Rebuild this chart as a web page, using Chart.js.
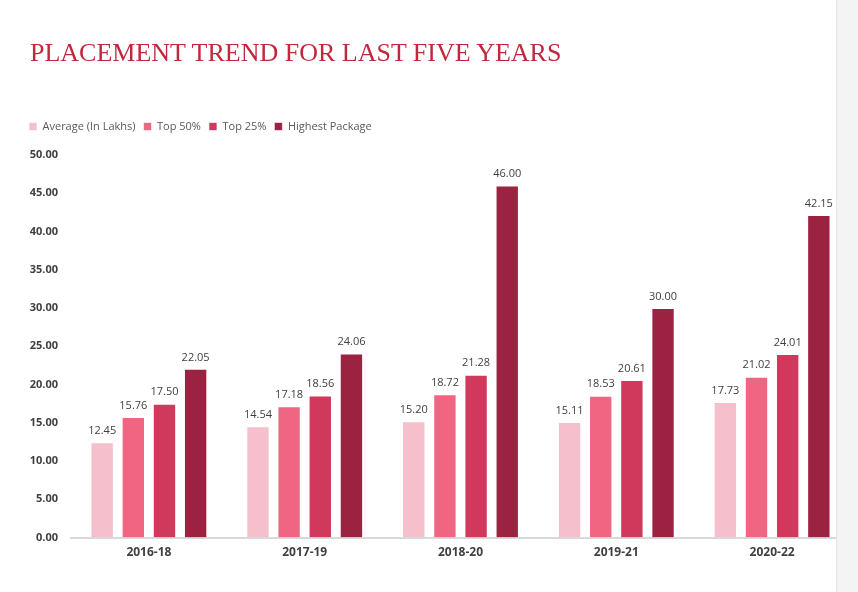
<!DOCTYPE html>
<html>
<head>
<meta charset="utf-8">
<script src="https://cdn.jsdelivr.net/npm/chart.js@4"></script>
<style>
html,body{margin:0;padding:0;background:#fff;width:858px;height:592px;overflow:hidden;}
#wrap{position:absolute;left:0;top:0;width:858px;height:592px;}
#title{position:absolute;left:30px;top:38px;font-family:"Liberation Serif","Times New Roman",serif;font-size:26px;color:#C0283E;white-space:nowrap;letter-spacing:0px;}
#edge{position:absolute;left:836px;top:0;width:22px;height:592px;background:#f4f4f4;border-left:1px solid #e6e6e6;}
</style>
</head>
<body>
<div id="wrap"><canvas id="c" width="858" height="592"></canvas></div>
<div id="title">PLACEMENT TREND FOR LAST FIVE YEARS</div>
<div id="edge"></div>
<script>
const categories = ["2016-18","2017-19","2018-20","2019-21","2020-22"];
const seriesNames = ["Average (In Lakhs)","Top 50%","Top 25%","Highest Package"];
const average = [12.45,14.54,15.20,15.11,17.73];
const top50 = [15.76,17.18,18.72,18.53,21.02];
const top25 = [17.50,18.56,21.28,20.61,24.01];
const highest = [22.05,24.06,46.00,30.00,42.15];
const yTicks = [0,5,10,15,20,25,30,35,40,45,50];
const colors = ["#F5BFCB","#F06682","#D0395B","#9C2241"];

const labelPlugin = {
  id:'barLabels',
  afterDatasetsDraw(chart){
    const ctx = chart.ctx;
    ctx.save();
    ctx.font = '11px "Open Sans", sans-serif';
    ctx.fillStyle = '#404040';
    ctx.textAlign = 'center';
    ctx.textBaseline = 'bottom';
    chart.data.datasets.forEach((ds,i)=>{
      const meta = chart.getDatasetMeta(i);
      meta.data.forEach((bar,j)=>{
        ctx.fillText(ds.data[j].toFixed(2), bar.x, bar.y - 6);
      });
    });
    ctx.restore();
  }
};

const legendGap = {
  id:'legendGap',
  beforeInit(chart){
    const lg = chart.legend;
    const orig = lg.fit;
    lg.fit = function(){ orig.call(this); this.height += 13; };
  }
};

const dataSets = [average, top50, top25, highest].map((d,i)=>({
  label: seriesNames[i],
  data: d,
  backgroundColor: colors[i],
  borderColor: 'rgba(255,255,255,0.6)',
  borderWidth: 1,
  barPercentage: 0.75,
  categoryPercentage: 0.8
}));

new Chart(document.getElementById('c'), {
  type:'bar',
  data:{labels:categories, datasets:dataSets},
  options:{
    responsive:false,
    animation:false,
    layout:{padding:{left:21,right:8,top:113,bottom:24}},
    plugins:{
      legend:{
        position:'top',
        align:'start',
        labels:{
          boxWidth:8, boxHeight:8, padding:8,
          color:'#595959',
          font:{family:'"Open Sans", sans-serif', size:11}
        }
      },
      tooltip:{enabled:false}
    },
    scales:{
      x:{
        grid:{display:false, drawTicks:false},
        border:{display:true, color:'#d9d9d9', width:2},
        ticks:{color:'#404040', padding:8, font:{family:'"Open Sans", sans-serif', size:12, weight:'bold'}}
      },
      y:{
        min:0, max:50,
        afterBuildTicks(s){ s.ticks = yTicks.map(v=>({value:v})); },
        afterFit(s){ s.width = 50; },
        grid:{display:false, drawTicks:false},
        border:{display:false},
        ticks:{color:'#404040', padding:13, callback:v=>Number(v).toFixed(2),
               font:{family:'"Open Sans", sans-serif', size:11, weight:'bold'}}
      }
    }
  },
  plugins:[labelPlugin, legendGap]
});
</script>
</body>
</html>
